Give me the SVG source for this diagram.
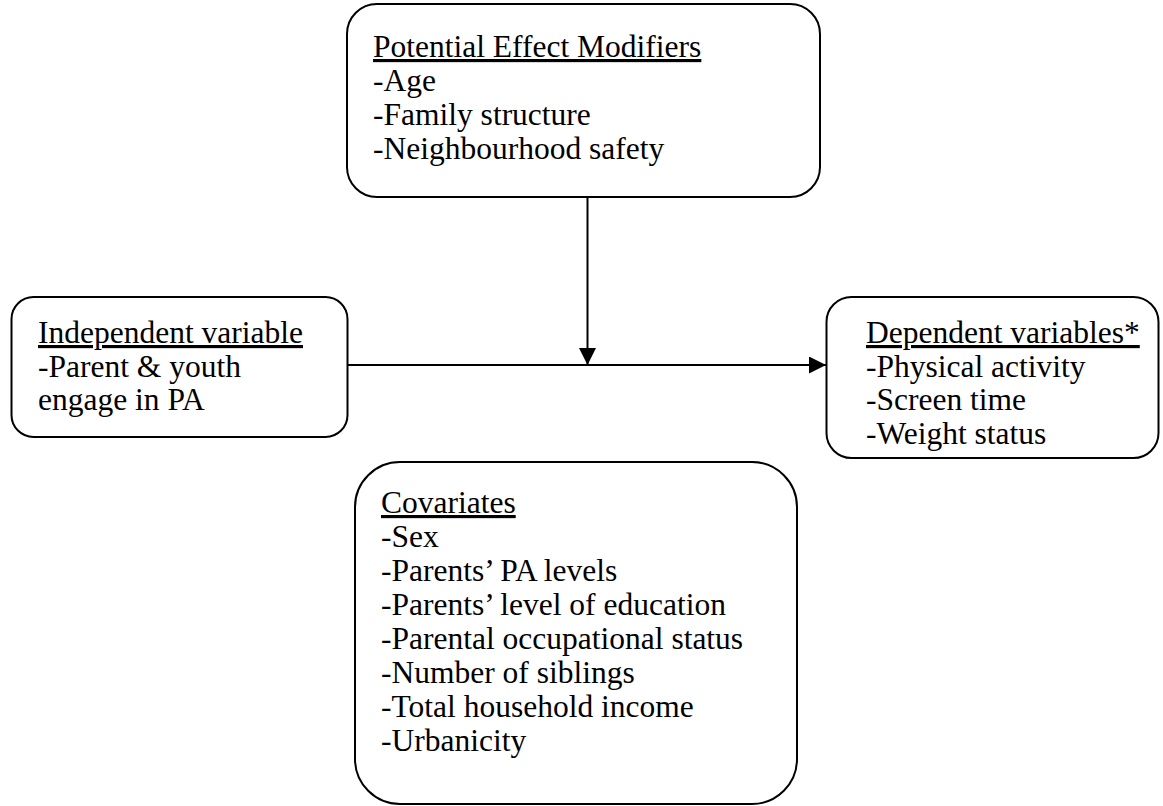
<svg xmlns="http://www.w3.org/2000/svg" width="1163" height="806" viewBox="0 0 1163 806">
<style>
.box{fill:#ffffff;stroke:#000000;stroke-width:2}
.t{font-family:"Liberation Serif","Times New Roman",serif;font-size:31.5px;fill:#000000}
.u{text-decoration:underline}
.c{stroke:#000000;stroke-width:2;fill:none}
</style>
<defs>
<marker id="arr" markerUnits="userSpaceOnUse" markerWidth="17" markerHeight="17" refX="17" refY="8.5" orient="auto">
<path d="M0,0 L17,8.5 L0,17 Z" fill="#000000"/>
</marker>
</defs>
<rect width="1163" height="806" fill="#ffffff"/>
<g id="connectors">
<line class="c" x1="348" y1="365" x2="826" y2="365" marker-end="url(#arr)"/>
<line class="c" x1="587.5" y1="197" x2="587.5" y2="365" marker-end="url(#arr)"/>
</g>
<g id="modifiers">
<rect class="box" x="347" y="4" width="473" height="193" rx="30" ry="30"/>
<text class="t u" x="373" y="57">Potential Effect Modifiers</text>
<text class="t" x="373" y="91">-Age</text>
<text class="t" x="373" y="125">-Family structure</text>
<text class="t" x="373" y="159">-Neighbourhood safety</text>
</g>
<g id="independent">
<rect class="box" x="11.5" y="297" width="336" height="140" rx="22" ry="22"/>
<text class="t u" x="38" y="343">Independent variable</text>
<text class="t" x="38" y="376.5">-Parent &amp; youth</text>
<text class="t" x="38" y="410">engage in PA</text>
</g>
<g id="dependent">
<rect class="box" x="826.5" y="297" width="332" height="161" rx="25" ry="25"/>
<text class="t u" x="866" y="343">Dependent variables*</text>
<text class="t" x="866" y="376.5">-Physical activity</text>
<text class="t" x="866" y="410">-Screen time</text>
<text class="t" x="866" y="444">-Weight status</text>
</g>
<g id="covariates">
<rect class="box" x="355" y="462" width="442" height="342" rx="45" ry="45"/>
<text class="t u" x="381" y="513">Covariates</text>
<text class="t" x="381" y="547">-Sex</text>
<text class="t" x="381" y="581">-Parents’ PA levels</text>
<text class="t" x="381" y="615">-Parents’ level of education</text>
<text class="t" x="381" y="649">-Parental occupational status</text>
<text class="t" x="381" y="683">-Number of siblings</text>
<text class="t" x="381" y="717">-Total household income</text>
<text class="t" x="381" y="751">-Urbanicity</text>
</g>
</svg>
